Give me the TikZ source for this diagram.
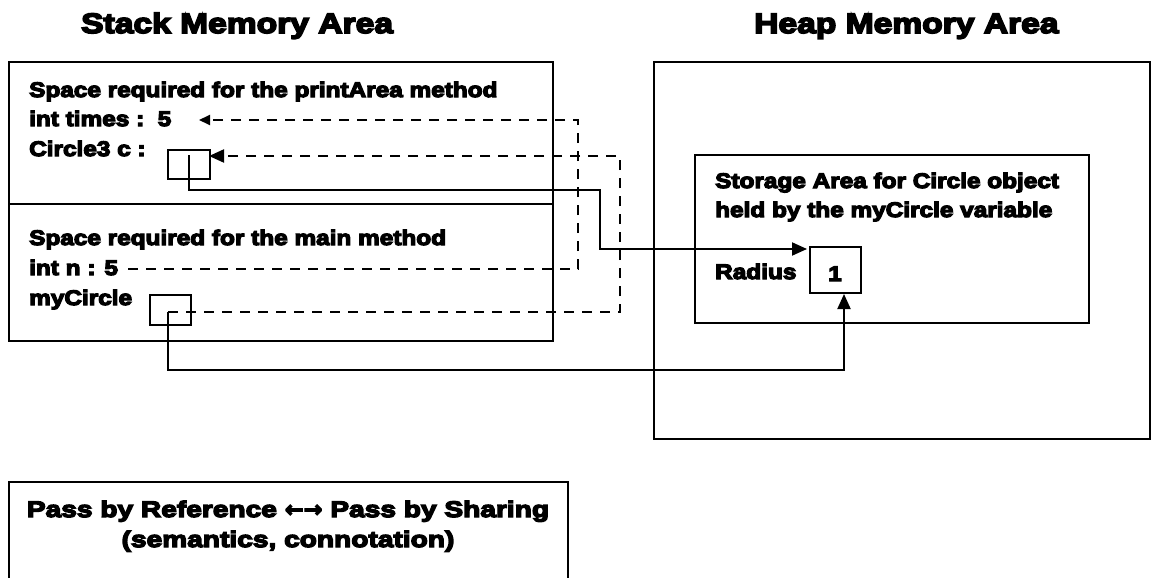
\documentclass[tikz,border=0pt]{standalone}
\usepackage{fontspec}
\usetikzlibrary{arrows.meta}
\newfontfamily\blk{Liberation Sans Bold}[FakeStretch=1.16, FakeBold=6]
\newfontfamily\blkn{Liberation Sans Bold}[FakeStretch=1.25, FakeBold=6]
\newfontfamily\blkt{Liberation Sans Bold}[FakeStretch=1.2, FakeBold=6]
\newfontfamily\arr{DejaVu Sans Bold}[FakeBold=5]
\begin{document}
\begin{tikzpicture}[x=1pt,y=-1pt,
  frame/.style={draw, line width=1.6pt, inner sep=0pt, anchor=north west},
  title/.style={anchor=base west, inner sep=0pt, font=\blkt\fontsize{28}{32}\selectfont},
  txt/.style={anchor=base west, inner sep=0pt, font=\blk\fontsize{21}{25}\selectfont},
  ctxt/.style={anchor=base, inner sep=0pt, font=\blk\fontsize{21}{25}\selectfont},
  ntxt/.style={anchor=base, inner sep=0pt, font=\blkn\fontsize{22.5}{26}\selectfont},
  solidln/.style={line width=2pt},
  dashln/.style={line width=2pt, dash pattern=on 10pt off 8pt},
  bigtip/.style={-{Triangle[length=15pt,width=13pt]}},
  smalltip/.style={-{Triangle[length=11pt,width=10pt]}}
]
\useasboundingbox (0,0) rectangle (1151,578);
% titles
\node[title] (stitle) at (81,33) {Stack Memory Area};
\node[title] (htitle) at (754,33) {Heap Memory Area};
% stack frames
\node[frame, minimum width=544pt, minimum height=142pt] (pframe) at (8,61) {};
\node[frame, minimum width=544pt, minimum height=137pt] (mframe) at (8,203) {};
% heap
\node[frame, minimum width=496pt, minimum height=377pt] (heap) at (653,61) {};
\node[frame, minimum width=394pt, minimum height=168pt] (obj) at (694,154) {};
% bottom box
\node[frame, minimum width=559pt, minimum height=120pt] (note) at (8,481) {};
% stack texts
\node[txt] (l1) at (29,97) {Space required for the printArea method};
\node[txt] (l2) at (29,126) {int times :\ \ 5};
\node[txt] (l3) at (29,156) {Circle3 c :};
\node[txt] (l4) at (29,245) {Space required for the main method};
\node[txt] (l5) at (29,275) {int n : 5};
\node[txt] (l6) at (29,305) {myCircle};
% reference boxes
\node[frame, minimum width=42pt, minimum height=29pt] (cbox) at (167,149) {};
\node[frame, minimum width=41pt, minimum height=30pt] (mbox) at (149,294) {};
% heap texts
\node[txt] (h1) at (715,188) {Storage Area for Circle object};
\node[txt] (h2) at (715,217) {held by the myCircle variable};
\node[txt] (rad) at (715,279) {Radius};
\node[frame, minimum width=51pt, minimum height=46pt] (val) at (809,246) {};
\node[ctxt] (one) at (835,281) {1};
% note texts
\node[ntxt] (n1) at (288,517) {Pass by Reference {\arr ←→} Pass by Sharing};
\node[ntxt] (n2) at (288,547) {(semantics, connotation)};
% coordinates
\coordinate (cs) at (189,155);
\coordinate (ct) at (807,249);
\coordinate (ms) at (168,312);
\coordinate (mt) at (844,294);
\coordinate (ns) at (128,269);
\coordinate (nt) at (199,120);
\coordinate (dt) at (209,156);
% solid references
\draw[solidln, bigtip] (cs) -- (189,190) -- (600,190) -- (600,249) -- (ct);
\draw[solidln, bigtip] (ms) -- (168,370) -- (844,370) -- (mt);
% dashed copies
\draw[dashln, smalltip] (ns) -- (578,269) -- (578,120) -- (nt);
\draw[dashln, bigtip] (ms) -- (620,312) -- (620,156) -- (dt);
\end{tikzpicture}
\end{document}
